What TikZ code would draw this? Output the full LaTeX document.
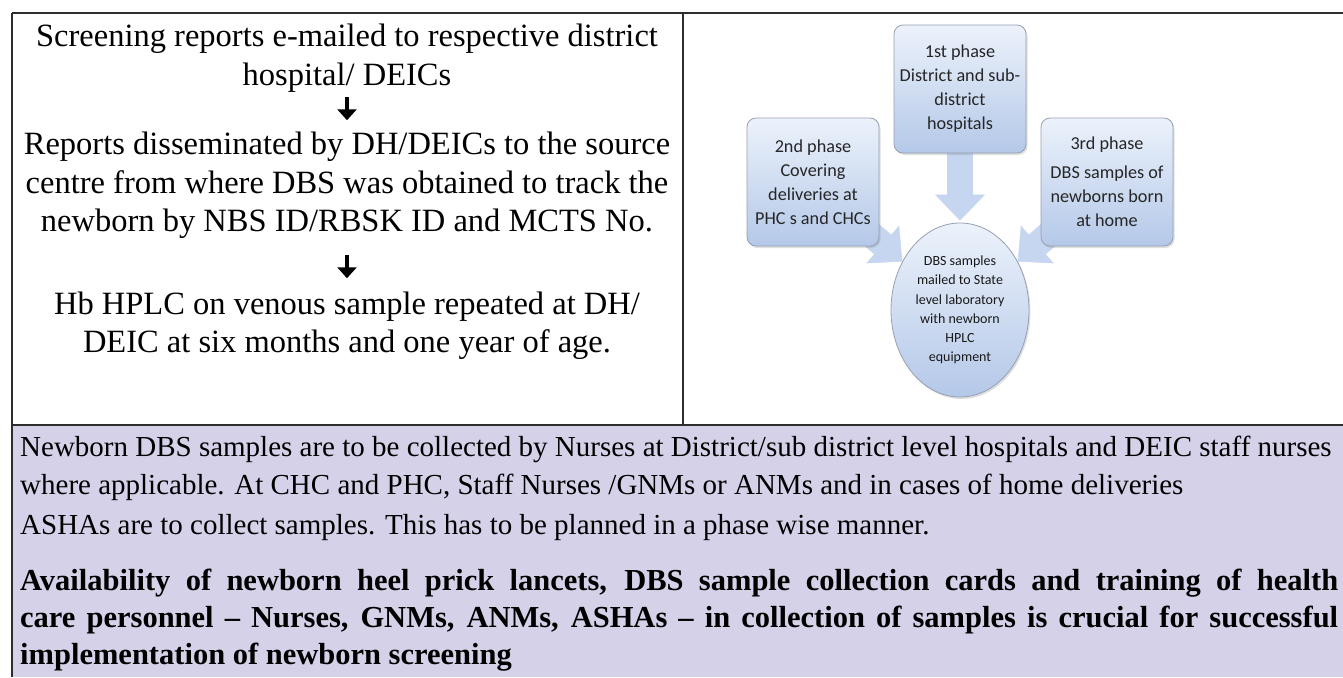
\documentclass[tikz,border=0pt]{standalone}
\usepackage{fontspec}
\setmainfont{Liberation Serif}
\newfontfamily\boxfont{Carlito}
\usetikzlibrary{shapes.geometric,arrows.meta,shadows,calc}
\definecolor{lav}{RGB}{213,209,232}
\definecolor{rulec}{RGB}{45,45,45}
\definecolor{boxtop}{RGB}{236,242,251}
\definecolor{boxbot}{RGB}{180,200,232}
\definecolor{boxedge}{RGB}{150,160,178}
\definecolor{arrowfill}{RGB}{198,214,240}
\pgfdeclarelayer{bg}
\pgfsetlayers{bg,main}
\begin{document}
\begin{tikzpicture}[x=1pt,y=-1pt,
  lefttxt/.style={anchor=base, inner sep=0pt, font=\fontsize{32.5}{38}\selectfont},
  paratxt/.style={anchor=base west, inner sep=0pt, font=\fontsize{29}{36}\selectfont},
  boldtxt/.style={anchor=base west, inner sep=0pt, font=\fontsize{30.5}{36}\selectfont\bfseries},
  flow/.style={line width=4.5pt, -{Triangle[length=11pt,width=19pt]}},
  phasebox/.style={rounded corners=9pt, draw=boxedge, line width=0.8pt,
    top color=boxtop, bottom color=boxbot, minimum width=132pt, minimum height=128pt,
    align=center, inner sep=0pt, font=\boxfont\fontsize{18.2}{24}\selectfont, text=black!85,
    drop shadow={shadow xshift=1.5pt, shadow yshift=-2pt, opacity=0.25}},
  labnode/.style={ellipse, draw=boxedge, line width=0.8pt, top color=boxtop, bottom color=boxbot,
    minimum width=138pt, minimum height=174pt, inner sep=0pt, align=center,
    font=\boxfont\fontsize{14}{19.3}\selectfont, text=black!90,
    drop shadow={shadow xshift=1.5pt, shadow yshift=-2pt, opacity=0.25}},
  blockarrow/.style={draw=arrowfill, line width=26pt,
    -{Triangle[length=26pt,width=50pt,line width=0.5pt]}},
  tablerule/.style={draw=rulec, line width=1.2pt}
]
\useasboundingbox (0,0) rectangle (1343,677);
% table
\fill[lav] (12,425) rectangle (1343,677);
\draw[tablerule, line width=1.8pt] (12,13) -- (1343,13);
\draw[tablerule] (12,13) -- (12,677);
\draw[tablerule] (683,13) -- (683,425);
\draw[tablerule, line width=1.5pt] (12,425) -- (1343,425);

% left column
\node[lefttxt] (la1) at (347,47) {Screening reports e-mailed to respective district};
\node[lefttxt] (la2) at (347,85) {hospital/ DEICs};
\node[lefttxt] (lb1) at (347,154) {Reports disseminated by DH/DEICs to the source};
\node[lefttxt] (lb2) at (347,193) {centre from where DBS was obtained to track the};
\node[lefttxt] (lb3) at (347,231) {newborn by NBS ID/RBSK ID and MCTS No.};
\node[lefttxt] (lc1) at (347,314) {Hb HPLC on venous sample repeated at DH/};
\node[lefttxt] (lc2) at (347,352) {DEIC at six months and one year of age.};
\draw[flow, shorten <=5pt, shorten >=11pt] (la2) -- (lb1);
\draw[flow, shorten <=17pt, shorten >=13pt] (lb3) -- (lc1);

% right diagram
\node[phasebox] (p1) at (960,89) {1st phase\\District and sub-\\district\\hospitals};
\node[phasebox] (p2) at (813,182) {2nd phase\\Covering\\deliveries at\\PHC s and CHCs};
\node[phasebox] (p3) at (1107,182) {3rd phase\\[5pt]DBS samples of\\newborns born\\at home};
\node[labnode] (lab) at (960,310) {DBS samples\\mailed to State\\level laboratory\\with newborn\\HPLC\\equipment};
\begin{pgfonlayer}{bg}
\draw[blockarrow, shorten >=2pt] (p1.south) -- (lab.north);
\draw[blockarrow] ($(p2.south east)+(-22,-24)$) -- (lab.140);
\draw[blockarrow] ($(p3.south west)+(22,-24)$) -- (lab.40);
\end{pgfonlayer}

% bottom text
\node[paratxt] (n1) at (20,456) {Newborn DBS samples are to be collected by Nurses at District/sub district level hospitals and DEIC staff nurses};
\node[paratxt] (n2) at (20,494) {where applicable. At CHC and PHC, Staff Nurses /GNMs or ANMs and in cases of home deliveries};
\node[paratxt] (n3) at (20,534) {ASHAs are to collect samples. This has to be planned in a phase wise manner.};
\node[boldtxt] (b1) at (20,590) {\makebox[1318pt][s]{Availability of newborn heel prick lancets, DBS sample collection cards and training of health}};
\node[boldtxt] (b2) at (20,627) {\makebox[1318pt][s]{care personnel – Nurses, GNMs, ANMs, ASHAs – in collection of samples is crucial for successful}};
\node[boldtxt] (b3) at (20,664) {implementation of newborn screening};
\end{tikzpicture}
\end{document}
